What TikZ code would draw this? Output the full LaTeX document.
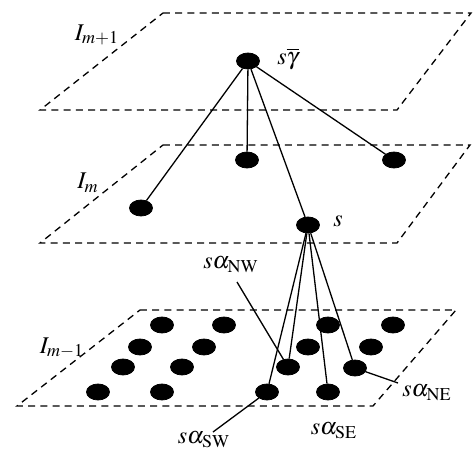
\documentclass[tikz,border=0pt]{standalone}
\usepackage{amsmath}
\usepackage{mathptmx}
\usepackage{tikz}
\usetikzlibrary{shapes.geometric}
\tikzset{
  dot/.style={ellipse, fill=black, draw=black, inner sep=0pt,
              minimum width=11.5pt, minimum height=8pt},
  plane/.style={dash pattern=on 3.5pt off 2.6pt, line width=0.65pt},
  link/.style={line width=0.65pt},
  lbl/.style={font=\large, inner sep=1pt},
}

\begin{document}
\begin{tikzpicture}[x=0.5pt,y=-0.5pt]
  \useasboundingbox (0,0) rectangle (473,452);
  % the three levels
  \draw[plane] (163,13) -- (471,13) -- (397,110) -- (40,110) -- cycle;
  \draw[plane] (163,145) -- (470,145) -- (397,243) -- (40,243) -- cycle;
  \draw[plane] (140,310) -- (456,310) -- (373,406) -- (17,406) -- cycle;
  \node[lbl] (lup) at (97,35) {$I_{m+1}$};
  \node[lbl] (lmid) at (88,183) {$I_m$};
  \node[lbl] (llow) at (62,348) {$I_{m-1}$};

  % level m+1
  \node[dot] (top) at (248,61) {};
  \node[lbl] (ltop) at (288,59) {$s\overline{\gamma}$};
  % level m
  \node[dot] (ma) at (141,208) {};
  \node[dot] (mb) at (247,160) {};
  \node[dot] (mc) at (394,160) {};
  \node[dot] (s) at (308,225) {};
  \node[lbl] (ls) at (338,221) {$s$};
  % level m-1
  \foreach \x/\y in {162/325, 224/325, 328/325, 393/325,
                     140/347, 204/347, 308/347, 371/347,
                     123/367, 182/367, 98/392, 162/392}
    \node[dot] at (\x,\y) {};
  \node[dot] (nw) at (288,367) {};
  \node[dot] (ne) at (355,368) {};
  \node[dot] (sw) at (267,392) {};
  \node[dot] (se) at (328,392) {};

  \draw[link] (top) -- (ma);
  \draw[link] (top) -- (mb);
  \draw[link] (top) -- (mc);
  \draw[link] (top) -- (s);
  \draw[link] (s) -- (nw);
  \draw[link] (s) -- (ne);
  \draw[link] (s) -- (sw);
  \draw[link] (s) -- (se);

  % child labels
  \node[lbl] (lnw) at (231,265) {$s\alpha_{\mathrm{NW}}$};
  \node[lbl] (lne) at (427,393) {$s\alpha_{\mathrm{NE}}$};
  \node[lbl] (lse) at (334,431) {$s\alpha_{\mathrm{SE}}$};
  \node[lbl] (lsw) at (204,440) {$s\alpha_{\mathrm{SW}}$};
  \coordinate (pnw) at (237,282);
  \coordinate (pne) at (398,383);
  \coordinate (psw) at (213,432);
  \draw[link] (pnw) -- (nw);
  \draw[link] (ne) -- (pne);
  \draw[link] (sw) -- (psw);
\end{tikzpicture}
\end{document}
